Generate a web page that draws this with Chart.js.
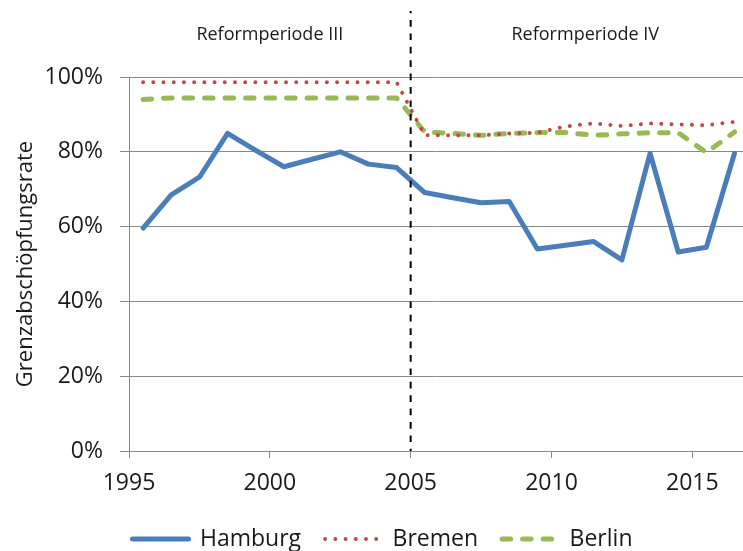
<!DOCTYPE html>
<html>
<head>
<meta charset="utf-8">
<script src="https://cdn.jsdelivr.net/npm/chart.js@4.4.0/dist/chart.umd.min.js"></script>
<style>
html,body{margin:0;padding:0;background:#fff;}
#wrap{width:743px;height:551px;position:relative;}
</style>
</head>
<body>
<div id="wrap"><canvas id="c" width="743" height="551"></canvas></div>
<script>
// Data (values are mid-year observations)
const years = [1995,1996,1997,1998,1999,2000,2001,2002,2003,2004,2005,2006,2007,2008,2009,2010,2011,2012,2013,2014,2015,2016];
const hamburg = [59.6,68.5,73.2,84.9,80.4,76.0,78.0,80.0,76.7,75.8,69.1,67.7,66.4,66.7,54.0,55.0,56.0,51.1,79.6,53.2,54.5,79.6];
const bremen  = [98.6,98.6,98.6,98.6,98.6,98.6,98.6,98.6,98.6,98.6,84.4,84.4,84.4,84.9,85.1,86.8,87.6,86.9,87.6,87.3,87.1,88.0];
const berlin  = [94.0,94.4,94.4,94.4,94.4,94.4,94.4,94.4,94.4,94.4,85.3,84.9,84.4,84.9,85.1,85.2,84.4,84.8,85.1,85.1,79.8,85.3];
const seriesNames = ['Hamburg','Bremen','Berlin'];
const xTickYears = [1995,2000,2005,2010,2015];
const yTickValues = [0,20,40,60,80,100];
const periodBoundary = 2005;
const periodLabels = ['Reformperiode III','Reformperiode IV'];
const periodLabelAt = [2000, 2011.2];
const yTitle = 'Grenzabschöpfungsrate';

const FONT = "'Open Sans', 'Noto Sans', sans-serif";
const GRID = '#898989';

function pts(vals){ return vals.map((v,i)=>({x: years[i] + 0.5, y: v})); }

const periodPlugin = {
  id: 'periods',
  afterLayout(chart){
    const lg = chart.legend;
    if (lg) { lg.top += 9.5; lg.bottom += 9.5; lg.left += 11; lg.right += 11; }
  },
  afterDatasetsDraw(chart){
    const {ctx, chartArea, scales:{x}} = chart;
    const px = x.getPixelForValue(periodBoundary);
    ctx.save();
    ctx.strokeStyle = '#000';
    ctx.lineWidth = 2;
    ctx.setLineDash([6.7,6.7]);
    ctx.lineDashOffset = 4.4;
    ctx.beginPath();
    ctx.moveTo(px, chartArea.top - 66);
    ctx.lineTo(px, chartArea.bottom);
    ctx.stroke();
    ctx.setLineDash([]);
    ctx.fillStyle = '#1a1a1a';
    ctx.font = "18px " + FONT;
    ctx.textAlign = 'center';
    ctx.textBaseline = 'middle';
    periodLabels.forEach((t,i)=>{
      ctx.fillText(t, x.getPixelForValue(periodLabelAt[i]), chartArea.top - 42);
    });
    ctx.restore();
  }
};

new Chart(document.getElementById('c'), {
  type: 'line',
  data: {
    datasets: [
      { label: seriesNames[0], data: pts(hamburg), borderColor: '#4A7EBB', backgroundColor: '#4A7EBB',
        borderWidth: 5, borderCapStyle: 'round', borderJoinStyle: 'round', pointRadius: 0, tension: 0 },
      { label: seriesNames[1], data: pts(bremen), borderColor: '#BE4B48', backgroundColor: '#BE4B48',
        borderWidth: 4, borderDash: [0.01, 10.2], borderCapStyle: 'round', borderJoinStyle: 'round', pointRadius: 0, tension: 0 },
      { label: seriesNames[2], data: pts(berlin), borderColor: '#98B954', backgroundColor: '#98B954',
        borderWidth: 5, borderDash: [8.5, 12], borderCapStyle: 'round', borderJoinStyle: 'round', pointRadius: 0, tension: 0 }
    ]
  },
  options: {
    responsive: false,
    animation: false,
    devicePixelRatio: 1,
    layout: { padding: { top: 77, left: 0, right: 0, bottom: 0 } },
    plugins: {
      legend: {
        position: 'bottom',
        labels: {
          usePointStyle: true,
          pointStyle: 'line',
          pointStyleWidth: 56,
          padding: 24,
          color: '#1a1a1a',
          font: { family: FONT, size: 23 },
          generateLabels(chart){
            return chart.data.datasets.map((ds, i) => ({
              text: ds.label,
              fillStyle: ds.borderColor,
              strokeStyle: ds.borderColor,
              fontColor: '#1a1a1a',
              lineWidth: ds.borderWidth,
              lineDash: ds.borderDash || [],
              lineDashOffset: 0,
              lineCap: ds.borderCapStyle,
              lineJoin: ds.borderJoinStyle,
              pointStyle: 'line',
              rotation: 0,
              hidden: false,
              datasetIndex: i
            }));
          }
        }
      },
      tooltip: { enabled: false }
    },
    scales: {
      x: {
        type: 'linear',
        min: 1995,
        max: 2016.8,
        afterBuildTicks(s){ s.ticks = xTickYears.map(v=>({value:v})); },
        afterFit(s){ s.height = 43; },
        grid: { drawOnChartArea: false, drawTicks: true, tickLength: 7, color: GRID },
        border: { color: GRID, width: 1 },
        ticks: { padding: 12, color: '#1a1a1a', font: { family: FONT, size: 23 },
          callback: v => String(v), maxRotation: 0 }
      },
      y: {
        min: 0,
        max: 100,
        afterBuildTicks(s){ s.ticks = yTickValues.map(v=>({value:v})); },
        afterFit(s){ s.width = 129; },
        grid: { color: GRID, tickLength: 9 },
        border: { color: GRID, width: 1 },
        ticks: { padding: 17, color: '#1a1a1a', font: { family: FONT, size: 23 }, callback: v => v + '%' },
        title: { display: true, text: yTitle, color: '#1a1a1a', font: { family: FONT, size: 22 }, padding: { top: 13, bottom: 0 } }
      }
    }
  },
  plugins: [periodPlugin]
});
</script>
</body>
</html>
